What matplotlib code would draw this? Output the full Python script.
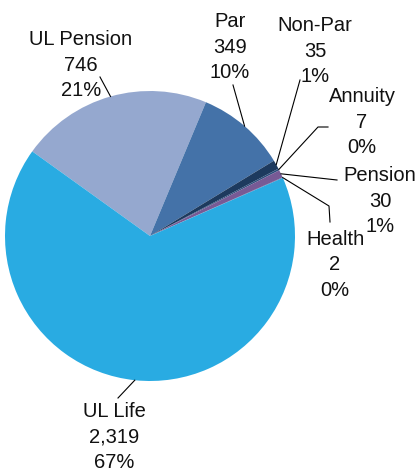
## pie chart of policy counts by product line
import numpy as np
import matplotlib
matplotlib.use('Agg')
import matplotlib.pyplot as plt

plt.rcParams['font.family'] = ['Liberation Sans', 'DejaVu Sans']

categories = ['UL Pension', 'Par', 'Non-Par', 'Annuity', 'Pension', 'Health', 'UL Life']
values = [746, 349, 35, 7, 30, 2, 2319]
value_labels = ['746', '349', '35', '7', '30', '2', '2,319']
pct_labels = ['21%', '10%', '1%', '0%', '1%', '0%', '67%']
colors = ['#95a8cf', '#4472a8', '#1d3a5e', '#2c4f7c', '#775a95', '#5d4b8a', '#29abe2']

W, H = 420, 473
fig = plt.figure(figsize=(W / 100, H / 100), dpi=100)
ax = fig.add_axes([0, 0, 1, 1])

cx, cy, r = 150, H - 236, 145
wedges, _ = ax.pie(values, colors=colors, startangle=144.3, counterclock=False,
                   center=(cx, cy), radius=r, frame=True,
                   wedgeprops=dict(linewidth=0))
ax.set_xlim(0, W)
ax.set_ylim(0, H)
ax.set_aspect('equal')
ax.axis('off')

# label centres (pixel coords from top) and leader-line bends
label_pos = {
    'UL Pension': (81, 65),
    'Par': (230, 47),
    'Non-Par': (315, 51),
    'Annuity': (362, 122),
    'Pension': (380, 201),
    'Health': (335, 265),
    'UL Life': (114, 437),
}
line_pts = {
    'UL Pension': [(100, 77)],
    'Par': [(233, 85)],
    'Non-Par': [(300, 80)],
    'Annuity': [(328, 127), (318, 127)],
    'Pension': [(337, 180)],
    'Health': [(330, 222), (329, 206)],
    'UL Life': [(118, 398)],
}

for w, name, v, p in zip(wedges, categories, value_labels, pct_labels):
    lx, ly = label_pos[name]
    ax.text(lx, H - ly, '%s\n%s\n%s' % (name, v, p), ha='center', va='center',
            fontsize=14.5, linespacing=1.42, color='#111111')
    mid = np.deg2rad((w.theta1 + w.theta2) / 2)
    ex, ey = cx + r * np.cos(mid), cy + r * np.sin(mid)
    pts = [(x, H - y) for x, y in line_pts[name]] + [(ex, ey)]
    xs, ys = zip(*pts)
    ax.plot(xs, ys, color='black', lw=0.8, zorder=5)

fig.savefig('out.png', dpi=100)
